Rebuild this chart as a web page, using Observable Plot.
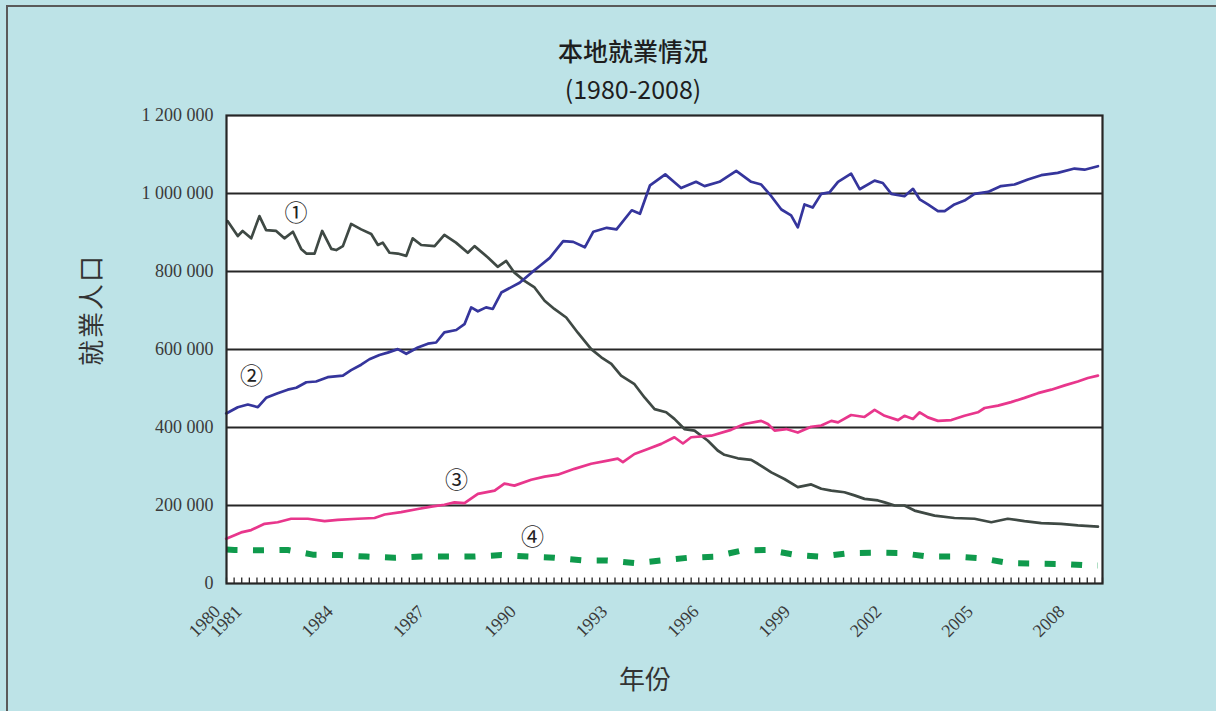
<!DOCTYPE html>
<html>
<head>
<meta charset="utf-8">
<script src="https://cdn.jsdelivr.net/npm/d3@7"></script>
<script src="https://cdn.jsdelivr.net/npm/@observablehq/plot@0.6"></script>
<style>
  html, body { margin: 0; padding: 0; }
  body { width: 1216px; height: 711px; overflow: hidden; background: #bde3e7; position: relative;
         font-family: "Noto Sans CJK TC", "Noto Sans CJK SC", sans-serif; }
  #border { position: absolute; left: 6px; top: 5px; width: 1210px; height: 706px; box-sizing: border-box;
            border-top: 2px solid #5a5a5a; border-left: 2px solid #5a5a5a; }
  #chart { position: absolute; left: 0; top: 0; }
  .ttl { position: absolute; left: 433px; width: 400px; text-align: center; font-size: 25px; line-height: 30px;
         color: #1e1e1e; font-weight: 500; }
  #ylab { position: absolute; left: 30px; top: 295px; width: 120px; text-align: center; font-size: 26px; line-height: 30px;
          color: #333; transform: rotate(-90deg); letter-spacing: 2px; }
  #xlab { position: absolute; left: 585px; top: 663px; width: 120px; text-align: center; font-size: 26px; line-height: 30px; color: #333; }
</style>
</head>
<body>
<div id="border"></div>
<div id="chart"></div>
<div class="ttl" style="top:35px">本地就業情況</div>
<div class="ttl" style="top:73px; font-weight:400">(1980-2008)</div>
<div id="ylab">就業人口</div>
<div id="xlab">年份</div>
<script>
// ---- Data (values in thousands of persons) ----
// ①
const s1Years = [1980.54,1980.87,1981.03,1981.31,1981.58,1981.80,1982.13,1982.40,1982.68,1982.95,1983.12,1983.39,1983.64,1983.94,1984.10,1984.32,1984.59,1984.92,1985.25,1985.47,1985.63,1985.85,1986.12,1986.40,1986.61,1986.89,1987.33,1987.65,1988.03,1988.42,1988.64,1989.08,1989.40,1989.68,1989.95,1990.28,1990.61,1990.94,1991.26,1991.65,1992.03,1992.47,1992.80,1993.13,1993.45,1993.89,1994.22,1994.55,1994.93,1995.20,1995.53,1995.86,1996.30,1996.62,1996.84,1997.28,1997.72,1997.94,1998.38,1998.81,1999.25,1999.69,2000.02,2000.35,2000.78,2001.11,2001.44,2001.88,2002.10,2002.43,2002.75,2003.08,2003.74,2004.39,2005.05,2005.60,2006.14,2006.69,2007.24,2007.89,2008.44,2009.10];
const s1Values = [929,891,904,885,942,906,904,885,902,858,846,846,904,858,855,865,922,908,896,868,874,848,846,840,885,868,865,894,874,848,865,836,812,827,797,776,759,725,704,682,643,601,580,563,533,511,477,447,439,422,396,392,366,341,330,321,317,307,285,268,247,254,243,238,234,226,217,213,208,200,200,187,174,168,166,157,166,160,155,153,149,146];
// ②
const s2Years = [1980.49,1980.87,1981.20,1981.53,1981.80,1982.18,1982.51,1982.79,1983.12,1983.44,1983.82,1984.32,1984.59,1984.92,1985.19,1985.52,1985.79,1986.12,1986.40,1986.78,1987.11,1987.38,1987.65,1988.04,1988.31,1988.53,1988.75,1989.02,1989.24,1989.52,1989.85,1990.12,1990.51,1990.78,1991.11,1991.55,1991.88,1992.26,1992.54,1992.98,1993.30,1993.80,1994.07,1994.40,1994.90,1995.20,1995.42,1995.91,1996.19,1996.68,1997.23,1997.72,1998.05,1998.38,1998.71,1999.03,1999.25,1999.47,1999.74,2000.02,2000.29,2000.57,2001.00,2001.28,2001.77,2002.04,2002.32,2002.75,2003.03,2003.25,2003.52,2003.85,2004.07,2004.39,2004.72,2005.05,2005.49,2005.92,2006.36,2006.80,2007.24,2007.78,2008.33,2008.66,2009.10];
const s2Values = [436,452,459,452,476,488,497,502,516,518,529,533,547,561,575,586,592,601,589,605,615,618,644,650,665,708,698,708,704,746,760,771,797,814,835,878,876,862,902,912,908,957,948,1021,1049,1029,1014,1030,1019,1030,1058,1030,1023,993,959,944,913,972,964,999,1003,1030,1051,1011,1033,1027,999,993,1012,985,972,955,955,972,982,999,1004,1019,1023,1036,1047,1053,1064,1061,1070];
// ③
const s3Years = [1980.49,1980.98,1981.31,1981.75,1982.18,1982.62,1983.17,1983.72,1984.15,1984.81,1985.36,1985.69,1986.23,1986.78,1987.22,1987.65,1987.98,1988.31,1988.75,1989.30,1989.62,1989.95,1990.50,1990.94,1991.37,1991.92,1992.47,1993.01,1993.34,1993.51,1993.89,1994.33,1994.77,1995.20,1995.48,1995.75,1996.41,1997.06,1997.50,1998.05,1998.27,1998.49,1998.87,1999.25,1999.69,2000.02,2000.35,2000.57,2001.00,2001.44,2001.77,2002.10,2002.54,2002.75,2003.03,2003.25,2003.52,2003.85,2004.29,2004.72,2005.16,2005.38,2005.82,2006.25,2006.69,2007.13,2007.57,2008.01,2008.44,2008.77,2009.10];
const s3Values = [115,131,137,153,157,166,166,160,163,166,168,177,183,191,197,202,208,206,230,238,256,251,266,274,279,294,307,315,320,311,332,345,358,375,359,375,379,394,409,417,409,392,396,387,402,405,417,413,432,427,445,430,419,430,422,439,426,417,419,430,439,450,456,465,476,488,497,508,518,527,533];
// ④
const s4Years = [1980.50,1980.76,1981.64,1982.51,1983.33,1984.21,1985.08,1986.01,1986.89,1987.71,1988.64,1989.52,1990.39,1991.26,1992.19,1993.01,1993.94,1994.77,1995.64,1996.52,1997.45,1998.27,1999.20,2000.02,2000.95,2001.82,2002.64,2003.52,2004.39,2005.32,2006.20,2007.07,2007.95,2008.83,2009.10];
const s4Values = [87,86,85,86,74,73,69,66,69,69,69,73,69,66,59,59,52,59,66,69,85,86,73,69,78,79,78,69,69,64,52,51,50,46,46];

const seriesNames = ["①","②","③","④"];
// circled-number annotations (year, thousands)
const annoYears = [1982.78, 1981.32, 1988.05, 1990.54];
const annoValues = [948, 530, 264, 118];

// axes
const yTickValues = [0, 200000, 400000, 600000, 800000, 1000000, 1200000];
const yTickLabels = ["0", "200 000", "400 000", "600 000", "800 000", "1 000 000", "1 200 000"];
const xTickYears = [1980.3, 1981, 1984, 1987, 1990, 1993, 1996, 1999, 2002, 2005, 2008];
const xTickLabels = ["1980", "1981", "1984", "1987", "1990", "1993", "1996", "1999", "2002", "2005", "2008"];
const xStart = 1980.5, xEnd = 2009.25;
const minorTicks = d3.range(xStart, xEnd + 0.001, 0.25);

const toRows = (ys, vs) => ys.map((y, i) => ({year: y, value: vs[i] * 1000}));
const r1 = toRows(s1Years, s1Values);
const r2 = toRows(s2Years, s2Values);
const r3 = toRows(s3Years, s3Values);
const r4 = toRows(s4Years, s4Values);
const annos = annoYears.map((y, i) => ({year: y, value: annoValues[i] * 1000, label: seriesNames[i]}));

const tickFont = "'Liberation Serif', 'Times New Roman', serif";

const chart = Plot.plot({
  width: 1216,
  height: 711,
  marginLeft: 226, marginRight: 114, marginTop: 115, marginBottom: 128,
  style: {background: "transparent", overflow: "visible"},
  x: {domain: [xStart, xEnd], axis: null},
  y: {domain: [0, 1200000], axis: null},
  marks: [
    Plot.frame({fill: "white", stroke: "none"}),
    Plot.ruleY(yTickValues.slice(1, -1), {stroke: "#262626", strokeWidth: 2}),
    Plot.ruleX(minorTicks, {y1: 0, y2: 14000, stroke: "#262626", strokeWidth: 1.3}),
    Plot.line(r4, {x: "year", y: "value", stroke: "#0f9a4c", strokeWidth: 6, strokeDasharray: "11,15.5", strokeLinecap: "butt"}),
    Plot.line(r1, {x: "year", y: "value", stroke: "#3f4944", strokeWidth: 2.7}),
    Plot.line(r3, {x: "year", y: "value", stroke: "#e8368c", strokeWidth: 2.7}),
    Plot.line(r2, {x: "year", y: "value", stroke: "#35359c", strokeWidth: 2.7}),
    Plot.frame({stroke: "#262626", strokeWidth: 2.2}),
    Plot.text(annos, {x: "year", y: "value", text: "label", fontSize: 23, fill: "#222",
      fontFamily: "'Noto Sans CJK TC', sans-serif"}),
    Plot.text(yTickValues, {frameAnchor: "left", y: d => d, text: (d, i) => yTickLabels[i],
      textAnchor: "end", dx: -13, fontSize: 18, fill: "#3a3a3a", fontFamily: tickFont,
      style: "letter-spacing:1.8px"}),
    Plot.text(xTickYears, {x: d => d, y: 0, text: (d, i) => xTickLabels[i], rotate: -45,
      textAnchor: "end", dx: -3, dy: 25, fontSize: 18, fill: "#3a3a3a", fontFamily: tickFont,
      style: "letter-spacing:0.8px"})
  ]
});
document.getElementById("chart").appendChild(chart);
</script>
</body>
</html>
